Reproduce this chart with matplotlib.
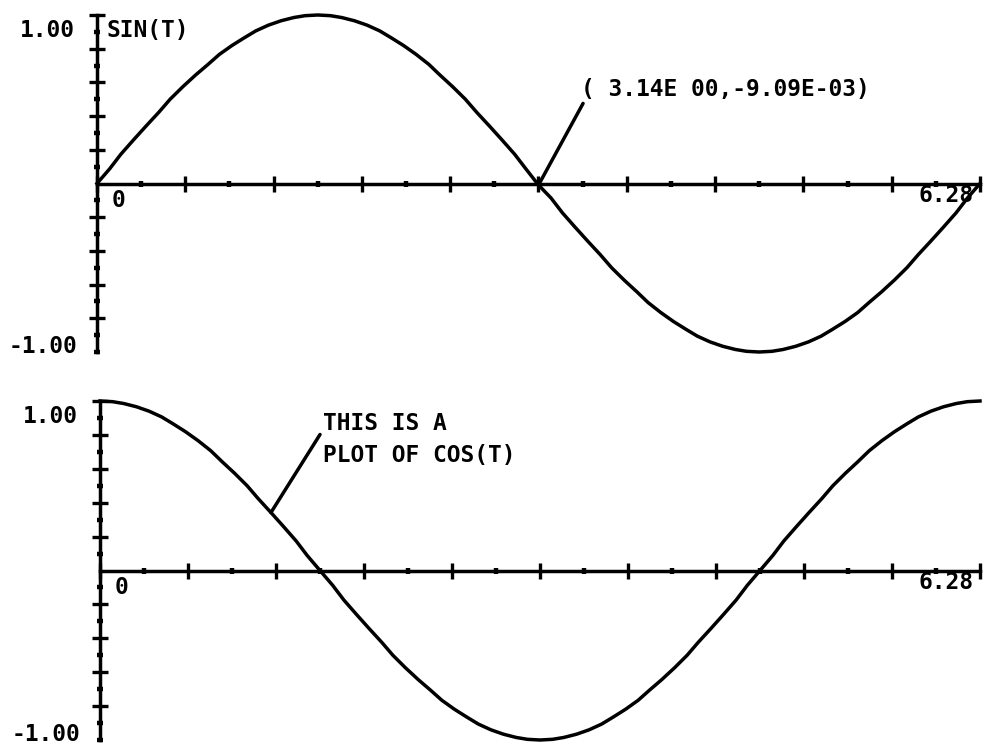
import matplotlib
matplotlib.use('Agg')
import matplotlib.pyplot as plt
from matplotlib.ticker import MultipleLocator, FixedLocator

# sample points along one period
t_vals = [0.00, 0.09, 0.17, 0.26, 0.35, 0.44, 0.52, 0.61, 0.70, 0.79,
          0.87, 0.96, 1.05, 1.13, 1.22, 1.31, 1.40, 1.48, 1.57, 1.66,
          1.74, 1.83, 1.92, 2.01, 2.09, 2.18, 2.27, 2.36, 2.44, 2.53,
          2.62, 2.70, 2.79, 2.88, 2.97, 3.05, 3.14, 3.23, 3.31, 3.40,
          3.49, 3.58, 3.66, 3.75, 3.84, 3.92, 4.01, 4.10, 4.19, 4.27,
          4.36, 4.45, 4.54, 4.62, 4.71, 4.80, 4.88, 4.97, 5.06, 5.15,
          5.23, 5.32, 5.41, 5.49, 5.58, 5.67, 5.76, 5.84, 5.93, 6.02,
          6.11, 6.19, 6.28]

sin_vals = [0.000, 0.087, 0.174, 0.259, 0.342, 0.423, 0.500, 0.574, 0.643, 0.707,
            0.766, 0.819, 0.866, 0.906, 0.940, 0.966, 0.985, 0.996, 1.000, 0.996,
            0.985, 0.966, 0.940, 0.906, 0.866, 0.819, 0.766, 0.707, 0.643, 0.574,
            0.500, 0.423, 0.342, 0.259, 0.174, 0.087, -0.009, -0.087, -0.174, -0.259,
            -0.342, -0.423, -0.500, -0.574, -0.643, -0.707, -0.766, -0.819, -0.866, -0.906,
            -0.940, -0.966, -0.985, -0.996, -1.000, -0.996, -0.985, -0.966, -0.940, -0.906,
            -0.866, -0.819, -0.766, -0.707, -0.643, -0.574, -0.500, -0.423, -0.342, -0.259,
            -0.174, -0.087, 0.000]

cos_vals = [1.000, 0.996, 0.985, 0.966, 0.940, 0.906, 0.866, 0.819, 0.766, 0.707,
            0.643, 0.574, 0.500, 0.423, 0.342, 0.259, 0.174, 0.087, 0.000, -0.087,
            -0.174, -0.259, -0.342, -0.423, -0.500, -0.574, -0.643, -0.707, -0.766, -0.819,
            -0.866, -0.906, -0.940, -0.966, -0.985, -0.996, -1.000, -0.996, -0.985, -0.966,
            -0.940, -0.906, -0.866, -0.819, -0.766, -0.707, -0.643, -0.574, -0.500, -0.423,
            -0.342, -0.259, -0.174, -0.087, 0.000, 0.087, 0.174, 0.259, 0.342, 0.423,
            0.500, 0.574, 0.643, 0.707, 0.766, 0.819, 0.866, 0.906, 0.940, 0.966,
            0.985, 0.996, 1.000]

# point picked out on the sine curve
pick_t = 3.14
pick_y = -9.09e-03
cos_note_idx = 14

t_end = 6.28
y_major = [-0.8, -0.6, -0.4, -0.2, 0.2, 0.4, 0.6, 0.8, 1.0]
y_minor = [-1.0, -0.9, -0.7, -0.5, -0.3, -0.1, 0.1, 0.3, 0.5, 0.7, 0.9]

plt.rcParams['font.family'] = ['DejaVu Sans Mono']
plt.rcParams['font.weight'] = 'bold'
FS = 16.5
LW = 2.5


def e_fmt(v):
    # fortran style E9.2 output, blank instead of '+' in the exponent
    return f"{v:9.2E}".replace("E+", "E ")


def setup_axis(ax):
    ax.set_xlim(0, t_end)
    ax.set_ylim(-1, 1)
    ax.patch.set_visible(False)
    for side in ('top', 'right'):
        ax.spines[side].set_visible(False)
    for side in ('left', 'bottom'):
        ax.spines[side].set_position('zero')
        ax.spines[side].set_linewidth(LW)
    ax.xaxis.set_major_locator(MultipleLocator(0.628))
    ax.xaxis.set_minor_locator(MultipleLocator(0.314))
    ax.yaxis.set_major_locator(FixedLocator(y_major))
    ax.yaxis.set_minor_locator(FixedLocator(y_minor))
    ax.tick_params(which='major', direction='inout', length=12, width=2.4,
                   labelbottom=False, labelleft=False)
    ax.tick_params(which='minor', direction='inout', length=5, width=3.2)
    ax.text(-0.16, 0.91, "1.00", ha='right', va='center', fontsize=FS)
    ax.text(-0.14, -0.97, "-1.00", ha='right', va='center', fontsize=FS)
    ax.text(0.15, -0.10, "0", ha='center', va='center', fontsize=FS)
    ax.text(6.04, -0.07, "6.28", ha='center', va='center', fontsize=FS)


fig = plt.figure(figsize=(9.84, 7.48), dpi=100)
fig.patch.set_facecolor('white')

ax_sin = fig.add_axes([97 / 984, 1 - 352 / 748, 883 / 984, 337 / 748])
ax_cos = fig.add_axes([100 / 984, 1 - 740 / 748, 880 / 984, 339 / 748])

# SIN(T)
setup_axis(ax_sin)
ax_sin.plot(t_vals, sin_vals, color='black', lw=LW, clip_on=False,
            solid_joinstyle='round')
ax_sin.text(0.07, 0.91, "SIN(T)", ha='left', va='center', fontsize=FS)
ax_sin.annotate("(" + e_fmt(pick_t) + "," + e_fmt(pick_y) + ")",
                xy=(pick_t, pick_y), xytext=(3.44, 0.56),
                ha='left', va='center', fontsize=FS,
                arrowprops=dict(arrowstyle='-', lw=LW, color='black',
                                shrinkA=0, shrinkB=0, relpos=(0.02, 0.15)))

# COS(T)
setup_axis(ax_cos)
ax_cos.plot(t_vals, cos_vals, color='black', lw=LW, clip_on=False,
            solid_joinstyle='round')
ax_cos.annotate("THIS IS A\nPLOT OF COS(T)",
                xy=(t_vals[cos_note_idx], cos_vals[cos_note_idx]), xytext=(1.59, 0.77),
                ha='left', va='center', fontsize=FS, linespacing=1.5,
                arrowprops=dict(arrowstyle='-', lw=LW, color='black',
                                shrinkA=0, shrinkB=0, relpos=(0.0, 0.68)))

fig.savefig('out.png', dpi=100, facecolor='white')
